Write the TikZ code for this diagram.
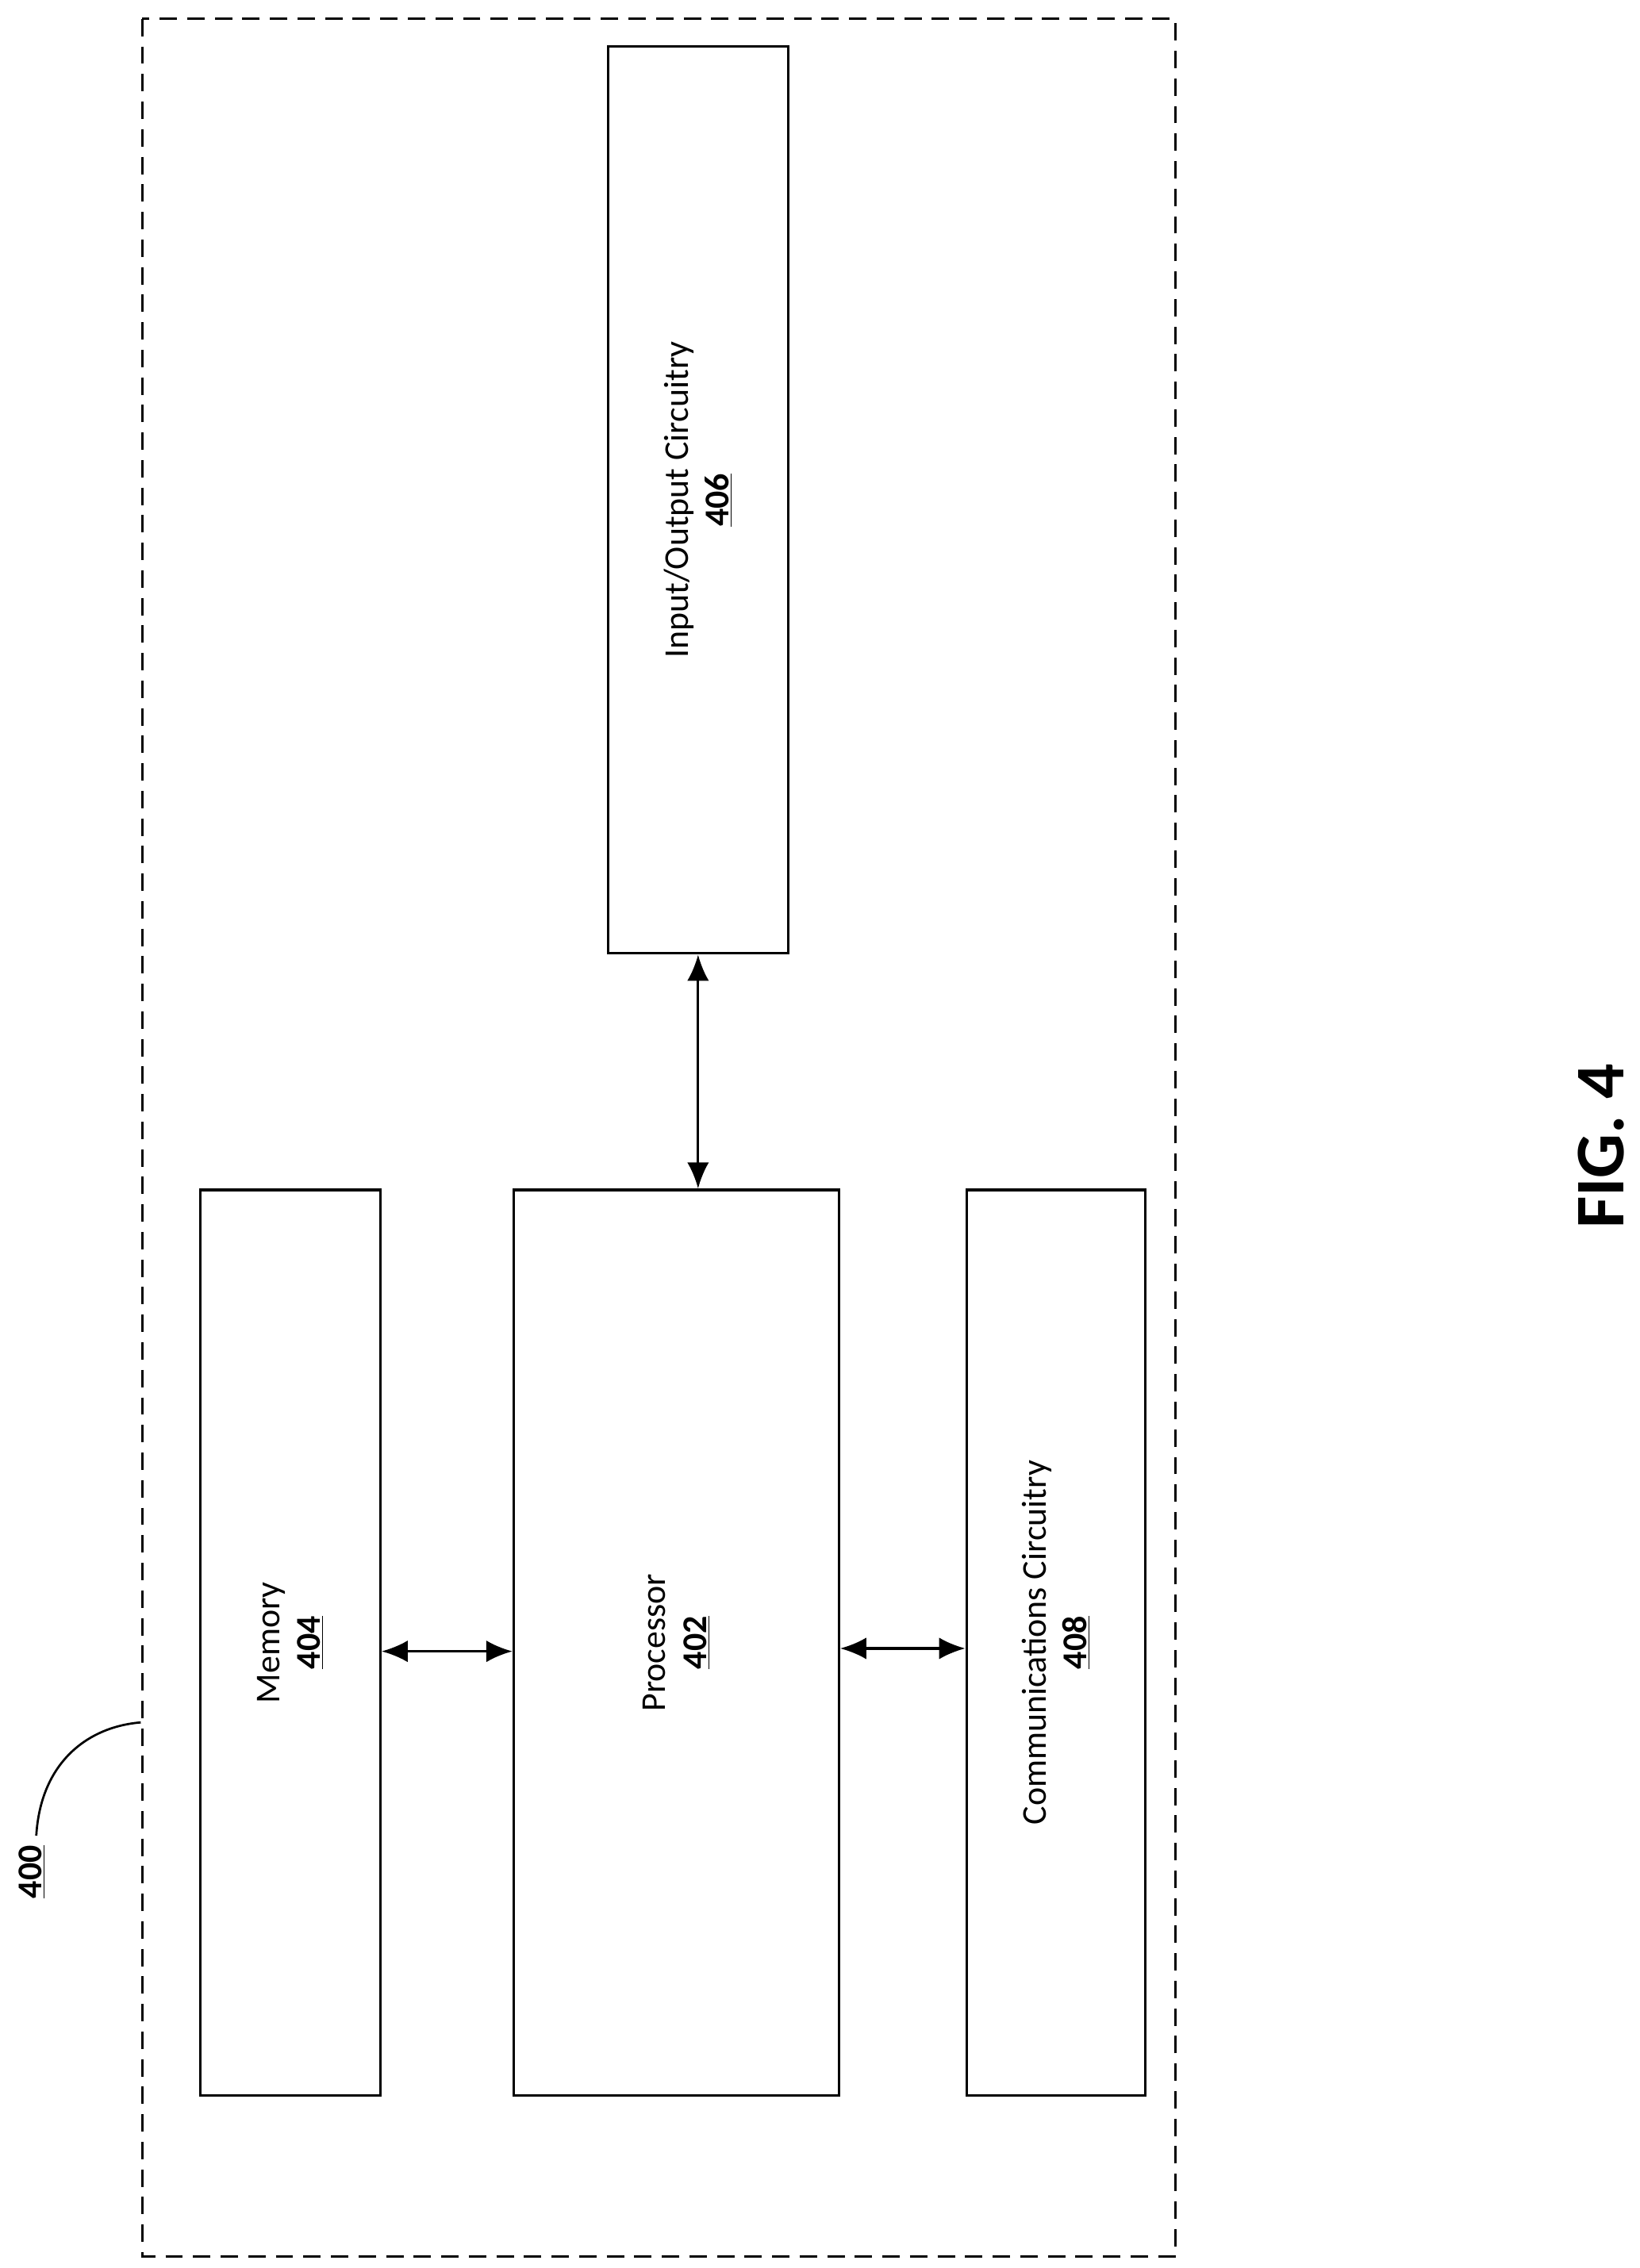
\documentclass[tikz,border=0pt]{standalone}
\usepackage{fontspec}
\setmainfont{Carlito}
\usetikzlibrary{arrows.meta}
\begin{document}
\begin{tikzpicture}[x=1pt,y=-1pt,
  box/.style={draw,line width=1.8pt,inner sep=0pt},
  lbl/.style={rotate=90,align=center,font=\fontsize{24}{28}\selectfont},
  arr/.style={line width=1.8pt,{Latex[length=18pt,width=15pt]}-{Latex[length=18pt,width=15pt]}}]
\useasboundingbox (0,0) rectangle (1130,1563);
\draw[line width=1.8pt,dash pattern=on 12pt off 7pt] (98,13) rectangle (810,1555);
\node[box,minimum width=124pt,minimum height=624pt] (mem) at (200,1132) {};
\node[box,minimum width=224pt,minimum height=624pt] (proc) at (466,1132) {};
\node[box,minimum width=123pt,minimum height=624pt] (comm) at (727.5,1132) {};
\node[box,minimum width=124pt,minimum height=625pt] (io) at (481,344.5) {};
\node[lbl] (memt) at (mem.center) {Memory\\\textbf{\underline{404}}};
\node[lbl] (proct) at (proc.center) {Processor\\\textbf{\underline{402}}};
\node[lbl] (commt) at (comm.center) {Communications Circuitry\\\textbf{\underline{408}}};
\node[lbl] (iot) at (io.center) {Input/Output Circuitry\\\textbf{\underline{406}}};
\draw[arr] (mem.east |- 0,1138) -- (proc.west |- 0,1138);
\draw[arr] (proc.east |- 0,1136) -- (comm.west |- 0,1136);
\draw[arr] (io.south) -- (io.south |- proc.north);
\node[rotate=90,font=\fontsize{24}{28}\selectfont\bfseries] (ref) at (22,1290) {\underline{400}};
\coordinate (c1) at (97,1187);
\draw[line width=1.5pt] (25,1265) .. controls (28,1215) and (60,1190) .. (c1);
\node[rotate=90,font=\fontsize{48}{52}\selectfont\bfseries] (fig) at (1103,790) {FIG. 4};
\end{tikzpicture}
\end{document}
